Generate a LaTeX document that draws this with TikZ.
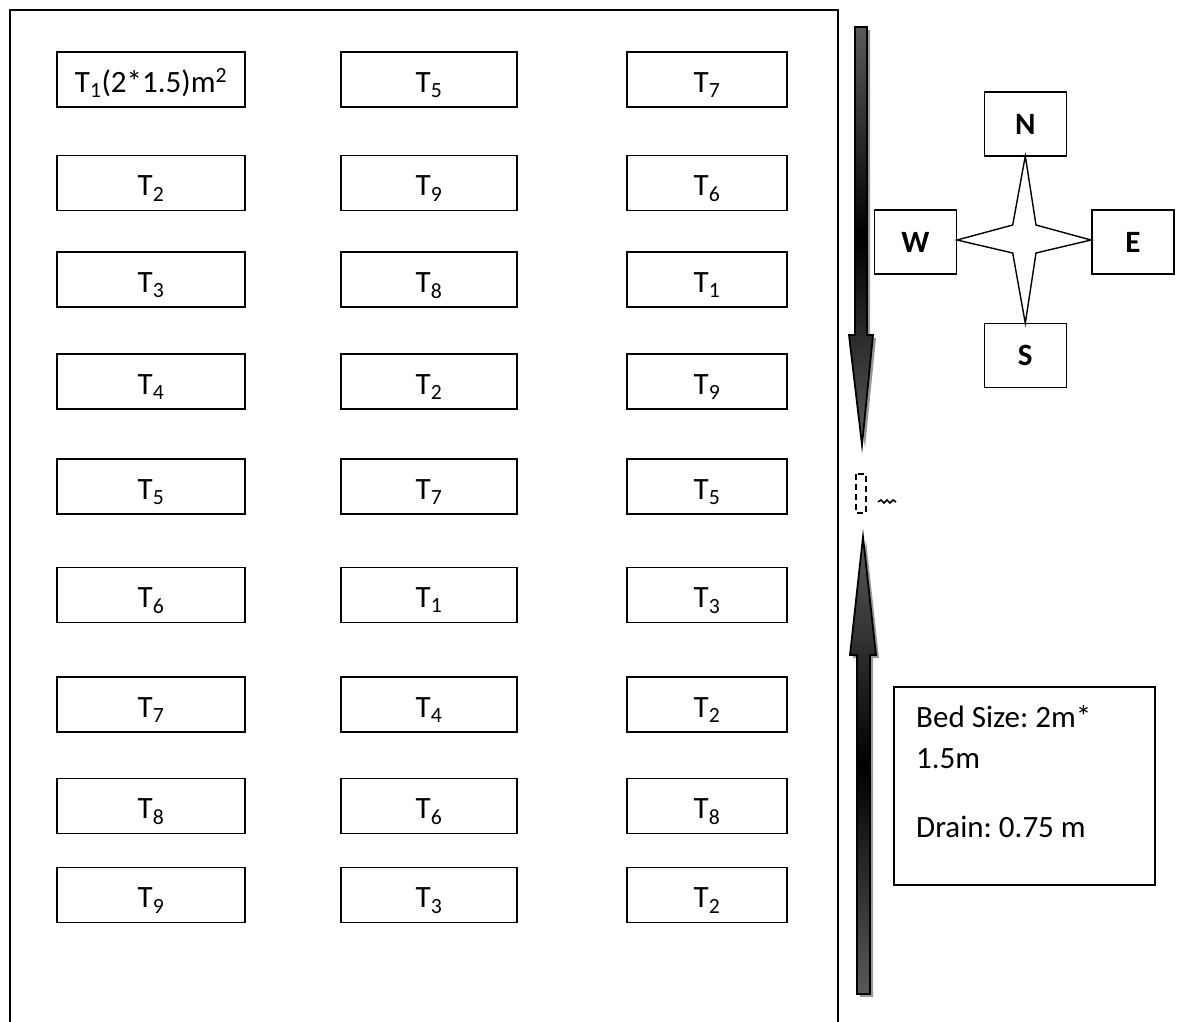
\documentclass[tikz,border=0pt]{standalone}
\usepackage{fontspec}
\setmainfont{Carlito}
\frenchspacing
\begin{document}
\begin{tikzpicture}[x=1pt,y=-1pt,
  bed/.style={draw,line width=1.6pt,rectangle,inner sep=0pt,outer sep=0pt,text height=25pt,text depth=0pt,font=\fontsize{31}{36}\selectfont},
  w1/.style={minimum width=188pt,minimum height=55pt},
  w2/.style={minimum width=176pt,minimum height=55pt},
  w3/.style={minimum width=160pt,minimum height=55pt},
  dir/.style={draw,line width=1.6pt,rectangle,inner sep=0pt,outer sep=0pt,minimum width=82pt,minimum height=64pt,font=\fontsize{31}{36}\selectfont\bfseries},
  legtext/.style={anchor=base west,inner sep=0pt,font=\fontsize{31}{36}\selectfont},
  shadowc/.style={fill=black!40,draw=none},
  arrowshade/.style={top color=black!65,bottom color=black!65,middle color=black,draw=black,line width=1.8pt}
]
\useasboundingbox (0,0) rectangle (1186,1021);
% field border (open at bottom)
\draw[line width=2pt] (10,1030) -- (10,10) -- (838,10) -- (838,1030);
% beds
\newcommand{\T}[1]{T\textsubscript{#1}}
\foreach \r/\y/\a/\b/\c in {1/79.5/{T\textsubscript{1}(2*1.5)m\textsuperscript{2}}/\T{5}/\T{7},
                             2/183/\T{2}/\T{9}/\T{6},
                             3/279.5/\T{3}/\T{8}/\T{1},
                             4/381.5/\T{4}/\T{2}/\T{9},
                             5/486.5/\T{5}/\T{7}/\T{5},
                             6/595/\T{6}/\T{1}/\T{3},
                             7/704.5/\T{7}/\T{4}/\T{2},
                             8/806/\T{8}/\T{6}/\T{8},
                             9/895/\T{9}/\T{3}/\T{2}}{
  \node[bed,w1] (a\r) at (151,\y) {\a};
  \node[bed,w2] (b\r) at (429,\y) {\b};
  \node[bed,w3] (c\r) at (707,\y) {\c};
}
% down arrow (shadow then arrow)
\fill[shadowc] (858,30) -- (870,30) -- (870,338) -- (876,338) -- (865,448) -- (852,338) -- (858,338) -- cycle;
\shade[arrowshade] (855,27) -- (867,27) -- (867,335) -- (873,335) -- (862,445) -- (849,335) -- (855,335) -- cycle;
% up arrow
\fill[shadowc] (860,997) -- (873,997) -- (873,658) -- (879,658) -- (866,540) -- (853,658) -- (860,658) -- cycle;
\shade[arrowshade] (857,994) -- (870,994) -- (870,655) -- (876,655) -- (863,537) -- (850,655) -- (857,655) -- cycle;
% small dashed box and mark between arrows
\draw[line width=1.6pt,dash pattern=on 6pt off 4pt] (856,474) rectangle (866,513);
\draw[line width=1.6pt] (878,502) -- (881,500) -- (884,503) -- (887,500) -- (890,503) -- (893,500) -- (896,502);
% compass
\node[dir] (N) at (1025.3,124) {N};
\node[dir] (W) at (915.5,242) {W};
\node[dir] (E) at (1133,242) {E};
\node[dir] (S) at (1025.3,355.3) {S};
\draw[line width=1.4pt,fill=white] (N.south) -- (1036,225) -- (1091,240) -- (1036,253) -- (S.north) -- (1012.7,253) -- (957,240) -- (1012.7,225) -- cycle;
% legend
\node[draw,line width=1.6pt,inner sep=0pt,minimum width=261pt,minimum height=198pt] (leg) at (1024.5,786) {};
\node[legtext] (l1) at (916,727) {Bed Size: 2m*};
\node[legtext] (l2) at (916,768) {1.5m};
\node[legtext] (l3) at (916,837) {Drain: 0.75 m};
\end{tikzpicture}
\end{document}
